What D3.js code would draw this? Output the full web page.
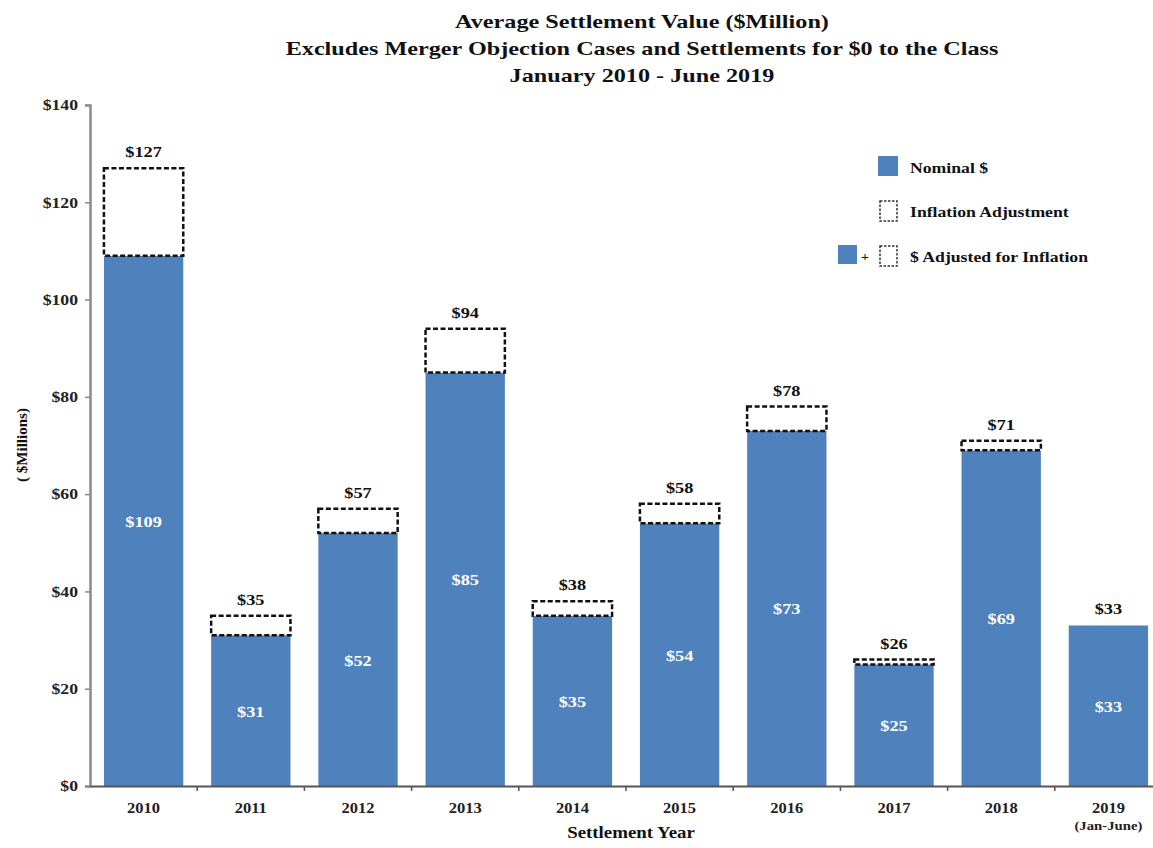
<!DOCTYPE html>
<html><head><meta charset="utf-8">
<script src="https://cdn.jsdelivr.net/npm/d3@7"></script>
<style>body{margin:0;background:#fff}svg{display:block}</style>
</head><body>
<svg id="c" width="1153" height="848" font-family="Liberation Serif" font-weight="bold"></svg>
<script>
const years = ["2010","2011","2012","2013","2014","2015","2016","2017","2018","2019"];
const yearSub = ["","","","","","","","","","(Jan-June)"];
const nominal = [109,31,52,85,35,54,73,25,69,33];
const adjusted = [127,35,57,94,38,58,78,26,71,33];
const yTicks = [0,20,40,60,80,100,120,140];
const titleLines = ["Average Settlement Value ($Million)","Excludes Merger Objection Cases and Settlements for $0 to the Class","January 2010 - June 2019"];
const legendLabels = ["Nominal $","Inflation Adjustment","$ Adjusted for Inflation"];

const FF = "Liberation Serif";
const K = 1.18; // horizontal stretch of the reference text
const svg = d3.select("#c");
const blue = "#4F81BD";
const x = d3.scaleBand().domain(years).range([90,1162]).paddingInner(0.26).paddingOuter(0.13);
const y = d3.scaleLinear().domain([0,140]).range([786,105]);

function label(parent, px, py, str, size, anchor, fill, k) {
  return parent.append("text")
    .attr("transform", `translate(${px},${py}) scale(${k||K},1)`)
    .attr("text-anchor", anchor||"middle").attr("font-size", size)
    .attr("font-family", FF).attr("font-weight","bold")
    .attr("fill", fill||"#111").text(str);
}

// title: fit width of line 2 to reference
const tg = svg.append("g");
const tl = titleLines.map((t,i)=>label(tg, 642, 28+i*27, t, 19.5, "middle", "#111", 1));
const w2 = tl[1].node().getComputedTextLength();
const tk = 713 / w2;
tl.forEach((t,i)=>t.attr("transform", `translate(642,${28+i*27}) scale(${tk},1)`));

// bars
const g = svg.append("g");
years.forEach((yr,i)=>{
  const x0 = x(yr), w = x.bandwidth();
  g.append("rect").attr("x",x0).attr("y",y(nominal[i])).attr("width",w).attr("height",y(0)-y(nominal[i])).attr("fill",blue);
  if (adjusted[i] > nominal[i]) {
    g.append("rect").attr("x",x0).attr("y",y(adjusted[i])).attr("width",w).attr("height",y(nominal[i])-y(adjusted[i]))
      .attr("fill","#fff").attr("stroke","#111").attr("stroke-width",2.5).attr("stroke-dasharray","5,2.5");
  }
  label(g, x0+w/2, (y(nominal[i])+y(0))/2+6, "$"+nominal[i], 15.5, "middle", "#fff");
  label(g, x0+w/2, y(adjusted[i])-11, "$"+adjusted[i], 15.5, "middle", "#111");
});

// y axis
const ya = svg.append("g").attr("transform","translate(90,0)")
  .call(d3.axisLeft(y).tickValues(yTicks).tickSize(5).tickPadding(7).tickFormat(d=>"$"+d));
ya.select(".domain").attr("stroke","#8a8a8a").attr("stroke-width",2.5);
ya.selectAll(".tick line").attr("stroke","#8a8a8a").attr("stroke-width",1.5);
ya.selectAll(".tick text").attr("font-size",15).attr("fill","#222").attr("font-family",FF).attr("font-weight","bold")
  .attr("x", -12/K).attr("transform", `scale(${K},1)`);

// x axis
const xa = svg.append("g").attr("transform","translate(0,786)")
  .call(d3.axisBottom(x).tickSize(0).tickPadding(14).tickSizeOuter(0));
xa.select(".domain").attr("stroke","#555").attr("stroke-width",2);
xa.selectAll(".tick text").attr("font-size",14).attr("fill","#222").attr("font-family",FF).attr("font-weight","bold")
  .attr("dy", null).attr("y", 27).attr("transform", `scale(${K},1)`);
const step = x.step();
const bounds = d3.range(1, years.length).map(k=>90+k*step);
svg.append("g").selectAll("line").data(bounds).join("line")
  .attr("x1",d=>d).attr("x2",d=>d).attr("y1",786).attr("y2",791).attr("stroke","#555").attr("stroke-width",1.5);
years.forEach((d,i)=>{ if (yearSub[i]) label(svg, x(d)+x.bandwidth()/2, 830, yearSub[i], 12.5, "middle", "#222"); });

// axis titles
label(svg, 631, 838, "Settlement Year", 16, "middle", "#111");
svg.append("text").attr("transform","translate(27,445) rotate(-90)").attr("text-anchor","middle")
  .attr("font-size",15).attr("font-family",FF).attr("font-weight","bold").attr("fill","#111").text("( $Millions)");

// legend
const lg = svg.append("g");
lg.append("rect").attr("x",878).attr("y",156).attr("width",20).attr("height",20).attr("fill",blue);
label(lg, 910, 173, legendLabels[0], 15, "start", "#111");
lg.append("rect").attr("x",880).attr("y",201).attr("width",17).attr("height",20).attr("fill","#fff").attr("stroke","#333").attr("stroke-width",1.5).attr("stroke-dasharray","2.5,1.5");
label(lg, 910, 217, legendLabels[1], 15, "start", "#111");
lg.append("rect").attr("x",838).attr("y",245).attr("width",19).attr("height",19).attr("fill",blue);
label(lg, 865, 261, "+", 12, "middle", "#111");
lg.append("rect").attr("x",880).attr("y",246).attr("width",17).attr("height",20).attr("fill","#fff").attr("stroke","#333").attr("stroke-width",1.5).attr("stroke-dasharray","2.5,1.5");
label(lg, 910, 262, legendLabels[2], 15, "start", "#111");
</script>
</body></html>
